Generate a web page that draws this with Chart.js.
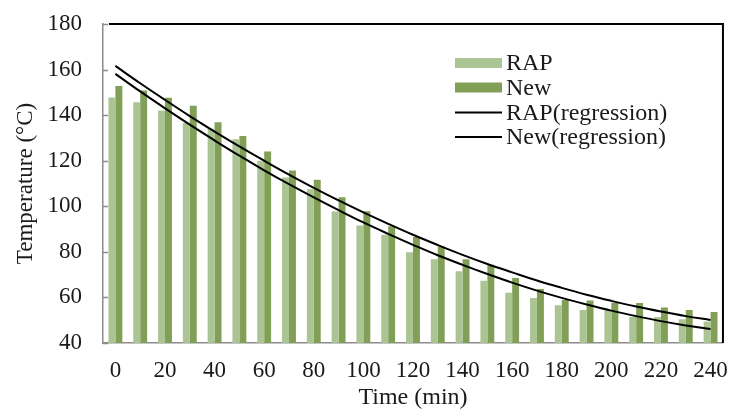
<!DOCTYPE html>
<html>
<head>
<meta charset="utf-8">
<script src="https://cdn.jsdelivr.net/npm/chart.js@4"></script>
<style>
  html, body { margin: 0; padding: 0; background: #fff; }
  #wrap { width: 742px; height: 412px; }
</style>
</head>
<body>
<div id="wrap"><canvas id="chart"></canvas></div>
<script>
// time (min)
const times = [0, 10, 20, 30, 40, 50, 60, 70, 80, 90, 100, 110, 120,
  130, 140, 150, 160, 170, 180, 190, 200, 210, 220, 230, 240];
// measured temperatures (°C)
const rapValues = [147.7, 145.7, 142.0, 136.5, 134.0, 129.4, 120.0, 112.6, 107.5, 97.7,
  91.6, 87.5, 79.8, 76.8, 71.5, 67.3, 62.0, 59.7, 56.6, 54.5, 54.2, 51.5, 51.4, 50.4, 49.4];
const newValues = [152.8, 150.8, 147.6, 144.1, 136.9, 130.8, 124.0, 115.7, 111.6, 104.0,
  97.8, 91.2, 86.5, 82.4, 76.8, 74.3, 68.5, 63.7, 58.9, 58.6, 57.7, 57.6, 55.6, 54.5, 53.6];
// regression curves
const rapRegression = [158.1, 150.4, 143.0, 135.8, 128.9, 122.2, 115.8, 109.7, 103.9, 98.3,
  92.9, 87.9, 83.1, 78.5, 74.3, 70.3, 66.5, 63.0, 59.8, 56.9, 54.2, 51.8, 49.6, 47.7, 46.1];
const newRegression = [161.6, 154.0, 146.7, 139.6, 132.8, 126.3, 120.0, 113.9, 108.1, 102.6,
  97.3, 92.3, 87.5, 83.0, 78.7, 74.7, 71.0, 67.4, 64.2, 61.2, 58.5, 56.0, 53.8, 51.8, 50.1];

const xTickLabels = [0, 20, 40, 60, 80, 100, 120, 140, 160, 180, 200, 220, 240];
const yTickLabels = [40, 60, 80, 100, 120, 140, 160, 180];

const lightGreen = '#abc493';
const darkGreen = '#819f57';
const serif = 'Liberation Serif';

// frame, inward ticks and legend
const decor = {
  id: 'decor',
  afterDraw(chart) {
    const {ctx, chartArea: {left, right, top, bottom}, scales: {y}} = chart;
    ctx.save();
    ctx.strokeStyle = '#8c8c8c';
    ctx.lineWidth = 1.5;
    y.ticks.forEach(t => {
      const py = Math.round(y.getPixelForValue(t.value)) + 0.5;
      ctx.beginPath();
      ctx.moveTo(left, py);
      ctx.lineTo(left + 5, py);
      ctx.stroke();
    });
    ctx.strokeStyle = '#000';
    ctx.lineWidth = 2;
    ctx.beginPath();
    ctx.moveTo(left + 6, top);
    ctx.lineTo(right, top);
    ctx.lineTo(right, bottom);
    ctx.stroke();

    // legend
    const lx = 455, rows = [63, 87.5, 112.5, 137];
    ctx.font = '24px "' + serif + '"';
    ctx.textBaseline = 'middle';
    ctx.fillStyle = '#1a1a1a';
    chart.data.datasets.forEach((ds, i) => {
      const ry = rows[i];
      if (ds.type === 'line') {
        ctx.strokeStyle = '#000';
        ctx.lineWidth = 2;
        ctx.beginPath();
        ctx.moveTo(lx, ry);
        ctx.lineTo(lx + 47, ry);
        ctx.stroke();
      } else {
        ctx.fillStyle = ds.backgroundColor;
        ctx.fillRect(lx, ry - 5, 47, 10);
      }
      ctx.fillStyle = '#1a1a1a';
      ctx.fillText(ds.label, lx + 51, ry + 1);
    });
    ctx.restore();
  }
};

new Chart(document.getElementById('chart'), {
  type: 'bar',
  data: {
    labels: times.map(String),
    datasets: [
      { label: 'RAP', data: rapValues, backgroundColor: lightGreen,
        categoryPercentage: 0.56, barPercentage: 1.0, order: 2 },
      { label: 'New', data: newValues, backgroundColor: darkGreen,
        categoryPercentage: 0.56, barPercentage: 1.0, order: 2 },
      { type: 'line', label: 'RAP(regression)', data: rapRegression, borderColor: '#000',
        borderWidth: 2, pointRadius: 0, tension: 0.4, fill: false, order: 0 },
      { type: 'line', label: 'New(regression)', data: newRegression, borderColor: '#000',
        borderWidth: 2, pointRadius: 0, tension: 0.4, fill: false, order: 0 }
    ]
  },
  options: {
    responsive: true,
    maintainAspectRatio: false,
    animation: false,
    layout: { padding: { left: 0, right: 10, top: 24, bottom: 0 } },
    plugins: { legend: { display: false }, tooltip: { enabled: false } },
    scales: {
      x: {
        grid: { display: false, drawTicks: false },
        border: { display: true, color: '#8c8c8c', width: 1.5 },
        afterFit: s => { s.height = 69; },
        ticks: {
          autoSkip: false, maxRotation: 0, padding: 14,
          color: '#1a1a1a', font: { family: serif, size: 23 },
          callback: (v, i) => xTickLabels.includes(times[i]) ? String(times[i]) : ''
        },
        title: {
          display: true, text: 'Time (min)', color: '#1a1a1a',
          font: { family: serif, size: 24 }, padding: { top: 0, bottom: 0 }
        }
      },
      y: {
        min: 40, max: 180,
        grid: { display: false, drawTicks: false },
        border: { display: true, color: '#8c8c8c', width: 1.5 },
        afterFit: s => { s.width = 103; s.paddingTop = 10; s.paddingBottom = 10; },
        ticks: {
          stepSize: 10, padding: 21,
          color: '#1a1a1a', font: { family: serif, size: 23 },
          callback: v => yTickLabels.includes(v) ? String(v) : ''
        },
        title: {
          display: true, text: 'Temperature (°C)', color: '#1a1a1a',
          font: { family: serif, size: 23 }, padding: { top: 12, bottom: 0 }
        }
      }
    }
  },
  plugins: [decor]
});
</script>
</body>
</html>
